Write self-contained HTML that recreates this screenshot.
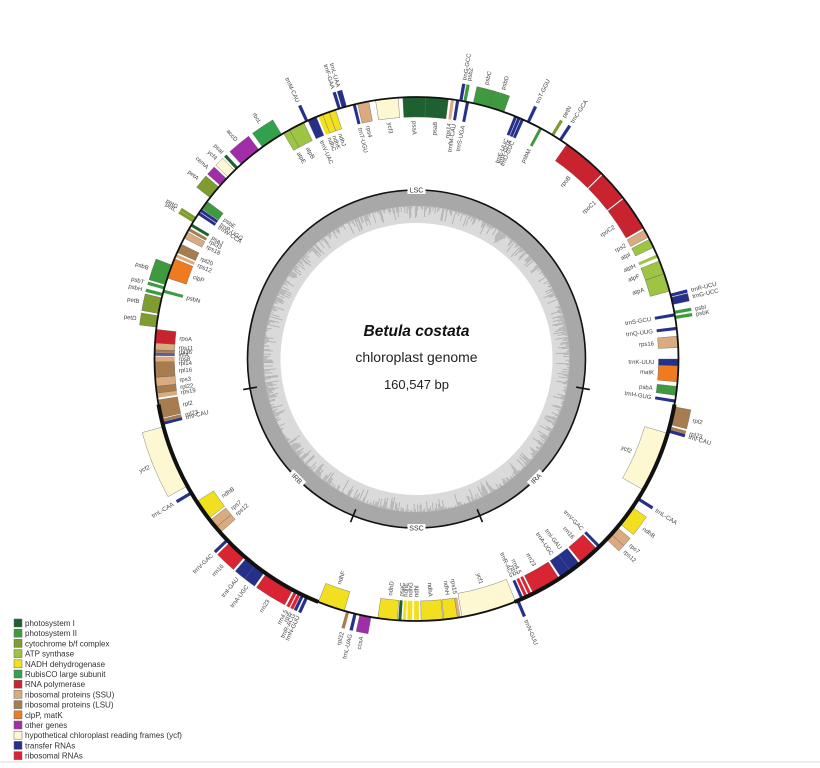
<!DOCTYPE html>
<html><head><meta charset="utf-8"><style>
html,body{margin:0;padding:0;background:#fff;}
svg{display:block;font-family:"Liberation Sans",sans-serif;}
</style></head><body>
<svg id="s" width="820" height="768" viewBox="0 0 820 768" xmlns="http://www.w3.org/2000/svg">
<rect width="820" height="768" fill="#fff"/>
<g id="gc"></g>
<g id="genes"></g>
<g id="labels" font-size="6" fill="#444"></g>
<g id="fg"></g>
<text x="416.5" y="336" text-anchor="middle" font-size="15.5" font-weight="bold" font-style="italic" fill="#111">Betula costata</text>
<text x="416.5" y="362" text-anchor="middle" font-size="14" fill="#222">chloroplast genome</text>
<text x="416.5" y="389" text-anchor="middle" font-size="13" fill="#222">160,547 bp</text>
<g id="legend" font-size="8" fill="#333"></g>
<line x1="0" y1="762" x2="820" y2="762" stroke="#ddd" stroke-width="1"/>
</svg>
<script>
var NS="http://www.w3.org/2000/svg",cx=416.5,cy=359,R=262;
function el(t,a,p){var e=document.createElementNS(NS,t);for(var k in a)e.setAttribute(k,a[k]);(p||document.getElementById('s')).appendChild(e);return e;}
function pt(r,a){var t=a*Math.PI/180;return [cx+r*Math.sin(t),cy-r*Math.cos(t)];}
function arcPath(r1,r2,a1,a2){var p1=pt(r1,a1),p2=pt(r1,a2),p3=pt(r2,a2),p4=pt(r2,a1),lg=(a2-a1)>180?1:0;
return "M"+p1+" A"+r1+","+r1+" 0 "+lg+" 1 "+p2+" L"+p3+" A"+r2+","+r2+" 0 "+lg+" 0 "+p4+"Z";}
var PSI="#1e6030",PSII="#3f9a3f",CYT="#7f9c30",ATP="#9dc443",NADH="#f2e020",RUB="#33a04c",POL="#c8232e",SSU="#d9ab7e",LSU="#a77c4e",CLP="#ee7b20",OTH="#a02ea8",YCF="#fdf7d2",TR="#25308a",RR="#d82433";
var gc=document.getElementById('gc');
el('circle',{cx:cx,cy:cy,r:152.5,fill:"none",stroke:"#dadada","stroke-width":33},gc);
el('circle',{cx:cx,cy:cy,r:161,fill:"none",stroke:"#a8a8a8","stroke-width":16},gc);
var seed=7;function rnd(){seed=(seed*9301+49297)%233280;return seed/233280;}
var d="";for(var a=0;a<360;a+=0.45){var r0=rnd();var l=153-(r0*r0)*14;var p1=pt(153.5,a),p2=pt(l,a);d+="M"+p1+"L"+p2;}
el('path',{d:d,stroke:"#b0b0b0","stroke-width":0.9,fill:"none"},gc);
el('circle',{cx:cx,cy:cy,r:169,fill:"none",stroke:"#111","stroke-width":1.6},gc);
[100,158,202,260].forEach(function(a){var p1=pt(162,a),p2=pt(176,a);el('line',{x1:p1[0],y1:p1[1],x2:p2[0],y2:p2[1],stroke:"#111","stroke-width":1.6},gc);});
[[0,"LSC"],[135,"IRA"],[180,"SSC"],[225,"IRB"]].forEach(function(q){var p=pt(169,q[0]);var rot=q[0]==135?-45:(q[0]==225?45:0);
var g=el('g',{transform:"translate("+p[0]+","+p[1]+") rotate("+rot+")"},gc);
el('rect',{x:-9,y:-4,width:18,height:8,fill:"#fff"},g);
var t=el('text',{x:0,y:2.5,"text-anchor":"middle","font-size":7,fill:"#333"},g);t.textContent=q[1];});
var G=[
[-3,2,'i',PSI,'psaA'],[2,7,'i',PSI,'psaB'],[7.5,8.3,'i',SSU,'rps14'],[8.8,9.3,'i',TR,'trnfM-CAU'],[9.5,10,'o',TR,'trnG-GCC'],[10.4,10.9,'o',PSII,'psbZ'],[11,11.5,'i',TR,'trnS-UGA'],
[12.5,16,'o',PSII,'psbC'],[16,19.5,'o',PSII,'psbD'],[22,22.5,'i',TR,'trnE-UUC'],[22.8,23.3,'i',TR,'trnY-GUA'],[23.6,24.1,'i',TR,'trnD-GUC'],[25,25.5,'o',TR,'trnT-GGU'],
[28,28.6,'i',PSII,'psbM'],[31,31.6,'o',CYT,'petN'],[33,33.6,'o',TR,'trnC-GCA'],
[35,45,'i',POL,'rpoB'],[45.3,52,'i',POL,'rpoC1'],[52.3,60,'i',POL,'rpoC2'],
[60.5,62.3,'i',SSU,'rps2'],[62.8,64.8,'i',ATP,'atpI'],[66.5,67.2,'i',ATP,'atpH'],[68,71,'i',ATP,'atpF'],[71,75,'i',ATP,'atpA'],
[75.6,76.2,'o',TR,'trnR-UCU'],[76.4,78,'o',TR,'trnG-UCC'],[79.5,80,'o',PSII,'psbI'],[80.6,81.1,'o',PSII,'psbK'],[80,80.6,'i',TR,'trnS-GCU'],[83,83.6,'i',TR,'trnQ-UUG'],
[85,87.5,'i',SSU,'rps16'],[90,91.5,'i',TR,'trnK-UUU'],[91.5,95,'i',CLP,'matK'],[96,98,'i',PSII,'psbA'],[99,99.5,'i',TR,'trnH-GUG'],
[100.5,104.5,'o',LSU,'rpl2'],[105,105.5,'o',LSU,'rpl23'],[105.7,106.2,'o',TR,'trnI-CAU'],
[106.5,120,'i',YCF,'ycf2'],[122,122.5,'o',TR,'trnL-CAA'],[124.5,129,'o',NADH,'ndhB'],[130,132,'o',SSU,'rps7'],[132,133.5,'o',SSU,'rps12'],
[135.5,136,'i',TR,'trnV-GAC'],[136.5,141,'i',RR,'rrn16'],[141.5,144,'i',TR,'trnI-GAU'],[144,146.5,'i',TR,'trnA-UGC'],[147,153.5,'i',RR,'rrn23'],[154,154.5,'i',RR,'rrn4.5'],[155,155.5,'i',RR,'rrn5'],[156,156.5,'i',TR,'trnR-ACG'],[157,157.5,'o',TR,'trnN-GUU'],
[157.8,170,'i',YCF,'ycf1'],[170.3,171,'i',SSU,'rps15'],[171,174,'i',NADH,'ndhH'],[174.2,179,'i',NADH,'ndhA'],[179.5,180.5,'i',NADH,'ndhI'],[181,182,'i',NADH,'ndhG'],[182.3,183,'i',NADH,'ndhE'],[183.3,184,'i',PSI,'psaC'],[184.2,188.5,'i',NADH,'ndhD'],
[190,192.5,'o',OTH,'ccsA'],[193.3,193.8,'o',TR,'trnL-UAG'],[195,195.5,'o',LSU,'rpl32'],[196,202,'i',NADH,'ndhF'],
[204.5,205,'o',TR,'trnN-GUU'],[205.5,206,'o',TR,'trnR-ACG'],[206.3,206.8,'o',RR,'rrn5'],[207.2,207.7,'o',RR,'rrn4.5'],[208.2,215,'o',RR,'rrn23'],[215.5,218,'o',TR,'trnA-UGC'],[218,220.5,'o',TR,'trnI-GAU'],[221,225.5,'o',RR,'rrn16'],[226,226.5,'o',TR,'trnV-GAC'],
[228.5,230,'i',SSU,'rps12'],[230,232,'i',SSU,'rps7'],[232.5,237,'i',NADH,'ndhB'],[239,239.5,'o',TR,'trnL-CAA'],[241,255,'o',YCF,'ycf2'],[255.5,256,'i',TR,'trnI-CAU'],[256.2,256.7,'i',LSU,'rpl23'],[257,261,'i',LSU,'rpl2'],
[261.5,262.5,'i',SSU,'rps19'],[262.5,264,'i',LSU,'rpl22'],[264,266,'i',SSU,'rps3'],[266,268.5,'i',LSU,'rpl16'],[268.5,269.5,'i',LSU,'rpl14'],[269.5,270.5,'i',SSU,'rps8'],[270.8,271.3,'i',"#5a5aa0",'infA'],[271.5,272,'i',LSU,'rpl36'],[272,273.5,'i',SSU,'rps11'],[273.5,276.5,'i',POL,'rpoA'],
[277,279.5,'o',CYT,'petD'],[280,283.5,'o',CYT,'petB'],[284,284.5,'o',PSII,'psbH'],[284.8,285.2,'i',PSII,'psbN'],[285.5,286,'o',PSII,'psbT'],[286.5,291,'o',PSII,'psbB'],
[288,292.5,'i',CLP,'clpP'],[293,293.5,'i',SSU,'rps12'],[294,296,'i',LSU,'rpl20'],[297.5,299,'i',SSU,'rps18'],[299.3,300,'i',LSU,'rpl33'],[300.5,301,'i',PSI,'psaJ'],[301.5,302,'o',CYT,'petL'],[302.2,302.7,'o',CYT,'petG'],[303.5,304,'i',TR,'trnW-CCA'],[304.3,304.8,'i',TR,'trnP-UGG'],[305,307,'i',PSII,'psbE'],
[308,311,'o',CYT,'petA'],[311.5,313.5,'o',OTH,'cemA'],[314,316,'o',YCF,'ycf4'],[316.5,317,'o',PSI,'psaI'],[318,323,'o',OTH,'accD'],[324,329,'o',RUB,'rbcL'],
[329.5,331,'i',ATP,'atpE'],[331,334.5,'i',ATP,'atpB'],[335,335.5,'o',TR,'trnM-CAU'],[335.5,337.5,'i',TR,'trnV-UAC'],[338,339,'i',NADH,'ndhC'],[339,340.5,'i',NADH,'ndhK'],[340.5,342,'i',NADH,'ndhJ'],
[342.5,343.2,'o',TR,'trnF-GAA'],[343.5,344.5,'o',TR,'trnL-UAA'],[346,346.5,'i',TR,'trnT-UGU'],[347,349.5,'i',SSU,'rps4'],[351,356,'i',YCF,'ycf3']
];
var gg=document.getElementById('genes'),lg=document.getElementById('labels');
G.forEach(function(g){var a1=g[0],a2=g[1],o=g[2]=='o';var big=(g[4]=='ycf2'||g[4]=='ycf1');
if(a2-a1<1){var m=(a1+a2)/2;a1=m-0.3;a2=m+0.3;}
var r1=o?R:R-(big?24:20),r2=o?R+(big?22:17):R;
el('path',{d:arcPath(r2,r1,a1,a2),fill:g[3],stroke:(a2-a1)>1?"#666":g[3],"stroke-width":0.4},gg);
var am=(a1+a2)/2,an=((am%360)+360)%360,right=an<180;
var rl=o?r2+4:r1-4;var p=pt(rl,am);
var rot=right?an-90:an+90;
var anchor=(o==right)?"start":"end";
var t=el('text',{x:p[0],y:p[1]+2,"text-anchor":anchor,transform:"rotate("+rot+" "+p[0]+" "+(p[1])+")"},lg);
t.textContent=g[4];});
var fg=document.getElementById('fg');
el('circle',{cx:cx,cy:cy,r:R,fill:"none",stroke:"#111","stroke-width":1.8},fg);
[[100,158],[202,260]].forEach(function(q){var p1=pt(R,q[0]),p2=pt(R,q[1]);el('path',{d:"M"+p1+" A"+R+","+R+" 0 0 1 "+p2,fill:"none",stroke:"#111","stroke-width":4},fg);});
var L=[[PSI,"photosystem I"],[PSII,"photosystem II"],[CYT,"cytochrome b/f complex"],[ATP,"ATP synthase"],[NADH,"NADH dehydrogenase"],[RUB,"RubisCO large subunit"],[POL,"RNA polymerase"],[SSU,"ribosomal proteins (SSU)"],[LSU,"ribosomal proteins (LSU)"],[CLP,"clpP, matK"],[OTH,"other genes"],[YCF,"hypothetical chloroplast reading frames (ycf)"],[TR,"transfer RNAs"],[RR,"ribosomal RNAs"]];
var lgd=document.getElementById('legend');
L.forEach(function(q,i){var y=619+i*10.2;el('rect',{x:14,y:y,width:8,height:8,fill:q[0],stroke:"#666","stroke-width":0.5},lgd);
var t=el('text',{x:25,y:y+7},lgd);t.textContent=q[1];});
</script>
</body></html>
